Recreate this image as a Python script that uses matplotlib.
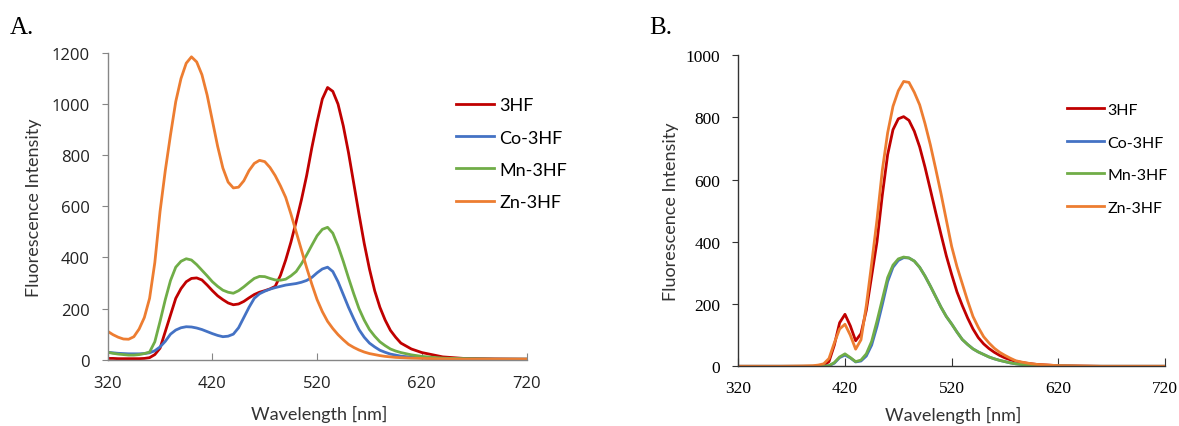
import matplotlib
matplotlib.use("Agg")
import matplotlib.pyplot as plt

# ---------------- Data: panel A ----------------
wl_a = list(range(320, 601, 5)) + [610, 620, 640, 660, 690, 720]
a_3hf = [5, 5, 4, 4, 4, 4, 4, 5, 8, 20, 45, 110, 175, 240, 278, 305, 318, 320, 312, 292,
         270, 250, 235, 222, 215, 218, 228, 242, 255, 264, 270, 277, 287, 330, 390, 460,
         540, 625, 720, 830, 930, 1020, 1065, 1050, 1000, 915, 810, 690, 570, 455, 355,
         270, 205, 155, 115, 88, 65, 42, 28, 11, 5, 3, 2]
a_co = [29, 27, 25, 24, 23, 23, 23, 24, 27, 35, 50, 72, 100, 116, 125, 129, 128, 124, 118, 110,
        102, 95, 90, 92, 100, 125, 165, 205, 240, 258, 268, 276, 282, 287, 292, 295,
        298, 303, 310, 322, 340, 355, 362, 345, 305, 255, 205, 160, 118, 88, 65,
        50, 37, 29, 22, 18, 14, 10, 7, 4, 3, 2, 2]
a_mn = [29, 25, 22, 20, 18, 18, 20, 24, 30, 70, 150, 235, 310, 362, 385, 395, 390, 372, 350, 328,
        305, 287, 272, 264, 260, 270, 285, 302, 318, 326, 325, 318, 312, 311, 315, 328,
        345, 375, 410, 448, 485, 510, 518, 495, 445, 385, 320, 258, 200, 155, 118,
        92, 70, 55, 42, 34, 28, 19, 13, 6, 4, 2, 2]
a_zn = [111, 98, 88, 81, 80, 90, 120, 165, 240, 380, 580, 740, 880, 1010, 1100, 1160, 1185, 1165, 1115, 1035,
        935, 835, 750, 695, 672, 675, 700, 740, 768, 780, 775, 752, 720, 680, 635, 570,
        500, 430, 360, 295, 235, 188, 150, 122, 98, 78, 60, 48, 38, 30, 24,
        20, 16, 13, 11, 9, 8, 6, 5, 3, 2, 2, 2]

# ---------------- Data: panel B ----------------
wl_b = [320, 340, 360, 380, 390] + list(range(395, 601, 5)) + [610, 620, 640, 660, 720]
b_3hf = [0, 0, 0, 0, 0, 1, 3, 15, 68, 140, 167, 130, 82, 105, 180, 290, 400, 550, 680, 760,
         795, 802, 790, 755, 705, 640, 568, 495, 424, 355, 295, 239, 195, 155, 120, 92,
         72, 57, 45, 35, 27, 21, 16, 13, 10, 8, 6, 4, 2, 1, 0, 0]
b_co = [0, 0, 0, 0, 0, 0, 0, 2, 10, 28, 36, 27, 14, 17, 33, 68, 128, 198, 272, 318,
        340, 349, 348, 338, 318, 290, 258, 224, 190, 160, 136, 110, 86, 70, 56, 46,
        38, 30, 24, 19, 15, 11, 8, 6, 4, 3, 2, 1, 1, 0, 0, 0]
b_mn = [0, 0, 0, 0, 0, 0, 0, 2, 12, 30, 40, 28, 15, 20, 40, 80, 145, 215, 285, 325,
        345, 351, 348, 338, 318, 290, 258, 224, 190, 160, 136, 110, 86, 70, 56, 46,
        38, 30, 24, 19, 15, 11, 8, 6, 4, 3, 2, 1, 1, 0, 0, 0]
b_zn = [0, 0, 0, 1, 2, 4, 8, 25, 75, 120, 135, 100, 55, 85, 195, 330, 470, 630, 750, 835,
        885, 915, 912, 880, 840, 780, 712, 635, 555, 470, 385, 320, 265, 210, 160, 125,
        95, 75, 58, 45, 35, 26, 18, 14, 11, 8, 6, 4, 2, 1, 0, 0]

for arr in (a_3hf, a_co, a_mn, a_zn):
    assert len(arr) == len(wl_a), len(arr)
for arr in (b_3hf, b_co, b_mn, b_zn):
    assert len(arr) == len(wl_b), len(arr)

labels = ["3HF", "Co-3HF", "Mn-3HF", "Zn-3HF"]
colors = ["#C00000", "#4472C4", "#70AD47", "#ED7D31"]
x_ticks = [320, 420, 520, 620, 720]

W, H = 1179, 427
fig = plt.figure(figsize=(W / 100, H / 100), dpi=100)

SANS = ["Lato", "DejaVu Sans"]
NUM = ["Open Sans", "DejaVu Sans"]
SERIF = ["Liberation Serif", "DejaVu Serif"]


def rect(x0, x1, ytop, ybot):
    return [x0 / W, (H - ybot) / H, (x1 - x0) / W, (ybot - ytop) / H]


# ---------------- Panel A ----------------
axA = fig.add_axes(rect(107.7, 526.5, 54, 360.7))
for y, lab, c in zip([a_3hf, a_co, a_mn, a_zn], labels, colors):
    axA.plot(wl_a, y, color=c, lw=2.0, label=lab, solid_joinstyle="round")
axA.set_xlim(320, 720)
axA.set_ylim(0, 1200)
axA.set_xticks(x_ticks)
axA.set_yticks(range(0, 1201, 200))
for s in ["top", "right"]:
    axA.spines[s].set_visible(False)
for s in ["left", "bottom"]:
    axA.spines[s].set_color("#868686")
    axA.spines[s].set_linewidth(1.0)
axA.tick_params(axis="x", direction="in", length=5, color="#868686", pad=11,
                labelsize=12, labelcolor="#222222")
axA.tick_params(axis="y", direction="out", length=4, color="#868686", pad=9,
                labelsize=12, labelcolor="#222222")
for t in axA.get_xticklabels() + axA.get_yticklabels():
    t.set_family(NUM)
axA.set_xlabel("Wavelength [nm]", family=SANS, fontsize=13, color="#333333")
axA.set_ylabel("Fluorescence Intensity", family=SANS, fontsize=13, color="#333333")
axA.xaxis.set_label_coords((319.6 - 107.7) / (526.5 - 107.7), -0.147)
axA.yaxis.set_label_coords((42 - 107.7) / (526.5 - 107.7), 0.5)
axA.legend(loc="upper left", bbox_to_anchor=(440 / W, 1 - 82 / H),
           bbox_transform=fig.transFigure, frameon=False, handlelength=2.1,
           handletextpad=0.3, labelspacing=0.9, prop={"family": SANS, "size": 13})
fig.text(10 / W, 1 - 28 / H, "A.", family=SERIF, fontsize=18, va="center", ha="left")

# ---------------- Panel B ----------------
axB = fig.add_axes(rect(738.3, 1165, 56, 367.3))
for y, lab, c in zip([b_3hf, b_co, b_mn, b_zn], labels, colors):
    axB.plot(wl_b, y, color=c, lw=2.0, label=lab, solid_joinstyle="round")
axB.set_xlim(320, 720)
axB.set_ylim(0, 1000)
axB.set_xticks(x_ticks)
axB.set_yticks(range(0, 1001, 200))
for s in ["top", "right"]:
    axB.spines[s].set_visible(False)
for s in ["left", "bottom"]:
    axB.spines[s].set_color("#333333")
    axB.spines[s].set_linewidth(1.0)
axB.tick_params(axis="x", direction="in", length=6, color="#333333", pad=10,
                labelsize=12.5)
axB.tick_params(axis="y", direction="out", length=4, color="#333333", pad=9,
                labelsize=12.5)
for t in axB.get_xticklabels() + axB.get_yticklabels():
    t.set_family(SERIF)
axB.set_xlabel("Wavelength [nm]", family=SANS, fontsize=13, color="#333333")
axB.set_ylabel("Fluorescence Intensity", family=SANS, fontsize=13, color="#333333")
axB.xaxis.set_label_coords((953 - 738.3) / (1165 - 738.3), -0.128)
axB.yaxis.set_label_coords((679 - 738.3) / (1165 - 738.3), 0.5)
axB.legend(loc="upper left", bbox_to_anchor=(1054 / W, 1 - 91 / H),
           bbox_transform=fig.transFigure, frameon=False, handlelength=2.3,
           handletextpad=0.25, labelspacing=1.15, borderpad=0.3,
           prop={"family": SANS, "size": 11.5})
fig.text(649 / W, 1 - 28 / H, "B.", family=SERIF, fontsize=18, va="center", ha="left")

fig.savefig("out.png", dpi=100)
